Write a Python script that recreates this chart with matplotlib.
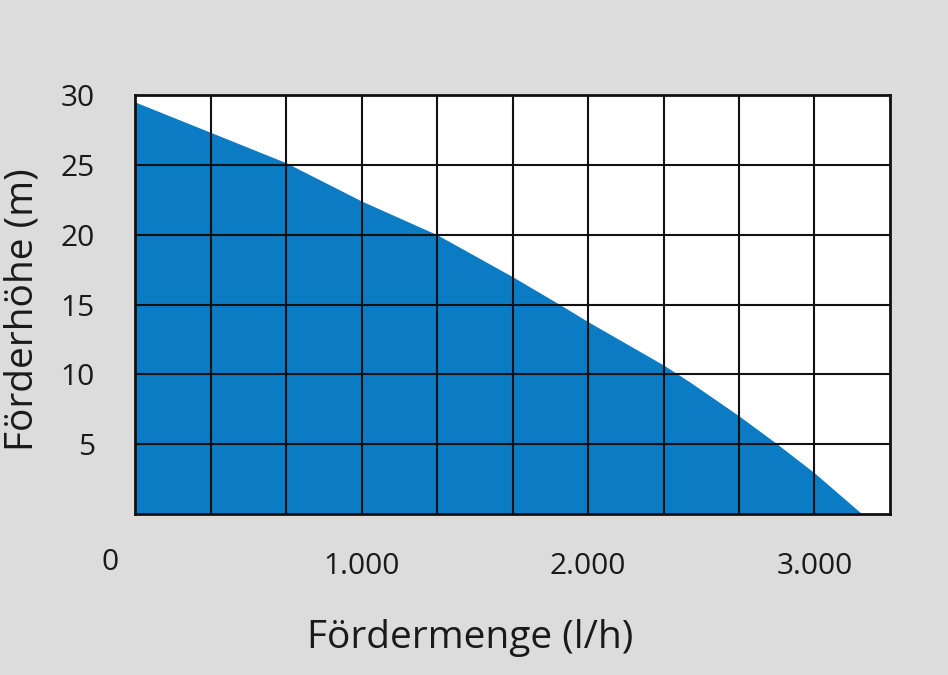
import matplotlib
matplotlib.use("Agg")
import matplotlib.pyplot as plt

plt.rcParams['font.family'] = ['Open Sans', 'DejaVu Sans']

# Data
flow = [0, 333, 667, 1000, 1333, 1667, 1875, 2000, 2333, 2448, 2667, 2836, 3000, 3210]   # l/h
head = [29.5, 27.33, 25.15, 22.41, 20.0, 16.99, 15.0, 13.77, 10.67, 9.47, 7.02, 5.0, 2.94, 0.0]  # m

x_grid = [i * 1000 / 3 for i in range(11)]
y_grid = [0, 5, 10, 15, 20, 25, 30]
x_ticks = [1000, 2000, 3000]
x_tick_labels = ["1.000", "2.000", "3.000"]
y_ticks = [5, 10, 15, 20, 25, 30]
y_tick_labels = ["5", "10", "15", "20", "25", "30"]

bg = "#dcdcdc"
blue = "#0b7bc3"
txt = "#1a1a1a"

fig = plt.figure(figsize=(9.48, 6.75), dpi=100, facecolor=bg)
ax = fig.add_axes([135/948, 1-514/675, (890-135)/948, (514-95)/675])
ax.set_facecolor("white")

ax.fill_between(flow, head, 0, color=blue, linewidth=0, zorder=1)

ax.set_xlim(0, 10000/3)
ax.set_ylim(0, 30)

for xv in x_grid[1:-1]:
    ax.axvline(xv, color="#111111", lw=1.5, zorder=2)
for yv in y_grid[1:-1]:
    ax.axhline(yv, color="#111111", lw=1.5, zorder=2)

for s in ax.spines.values():
    s.set_color("#111111")
    s.set_linewidth(2)
    s.set_zorder(3)

ax.set_xticks(x_ticks)
ax.set_xticklabels(x_tick_labels)
ax.set_yticks(y_ticks)
ax.set_yticklabels(y_tick_labels)
ax.tick_params(axis='both', length=0, labelsize=21.5, colors=txt)
ax.tick_params(axis='y', pad=29)
ax.tick_params(axis='x', pad=27)

ax.annotate("0", xy=(0, 0), xycoords='data', xytext=(-24.5*0.72, -48*0.72),
            textcoords='offset points', ha='center', va='center',
            fontsize=21.5, color=txt)

fig.text(470/948, 1-648/675, "Fördermenge (l/h)", ha='center', va='baseline',
         fontsize=28, color=txt)
fig.text(23/948, 1-310/675, "Förderhöhe (m)", ha='center', va='center',
         rotation=90, fontsize=28, color=txt)

fig.savefig("out.png", dpi=100, facecolor=bg)
